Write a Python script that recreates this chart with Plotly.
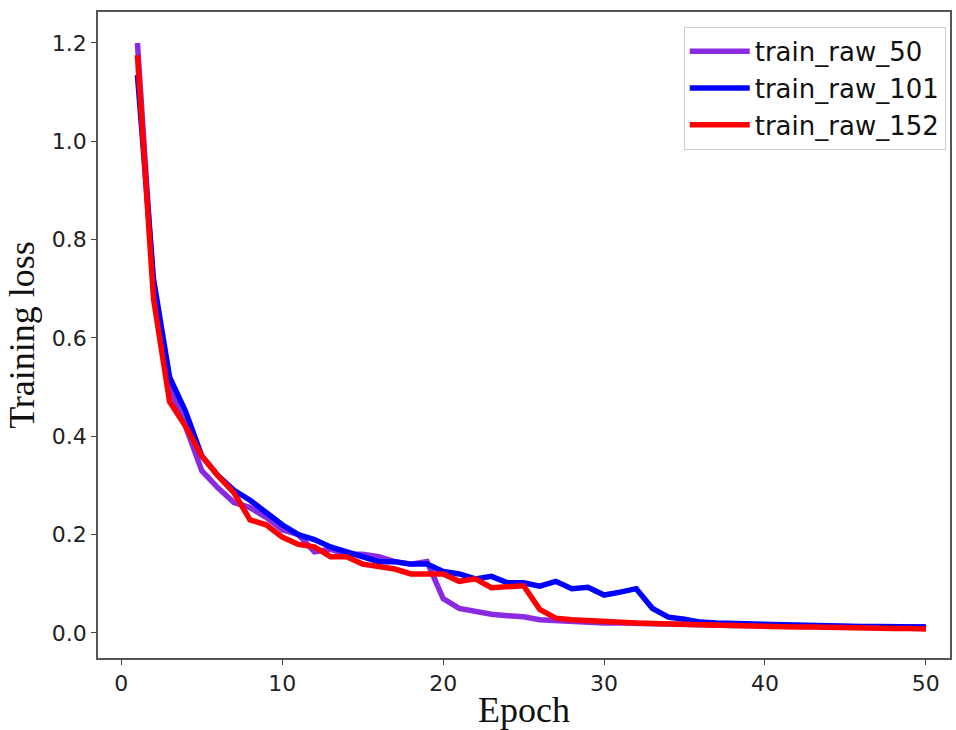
import plotly.graph_objects as go

epochs = list(range(1, 51))

train_raw_50 = [1.20, 0.70, 0.50, 0.42, 0.33, 0.295, 0.265, 0.255, 0.235, 0.21,
                0.20, 0.165, 0.17, 0.16, 0.16, 0.155, 0.145, 0.14, 0.145, 0.07,
                0.05, 0.043, 0.038, 0.035, 0.033, 0.027, 0.025, 0.023, 0.022, 0.020,
                0.020, 0.019, 0.018, 0.017, 0.017, 0.016, 0.016, 0.015, 0.015, 0.014,
                0.014, 0.013, 0.013, 0.013, 0.012, 0.012, 0.012, 0.012, 0.012, 0.012]

train_raw_101 = [1.135, 0.72, 0.52, 0.45, 0.36, 0.32, 0.29, 0.27, 0.245, 0.22,
                 0.20, 0.19, 0.175, 0.165, 0.155, 0.145, 0.145, 0.14, 0.14, 0.125,
                 0.12, 0.11, 0.115, 0.102, 0.102, 0.095, 0.105, 0.09, 0.093, 0.077,
                 0.083, 0.09, 0.05, 0.032, 0.028, 0.022, 0.020, 0.019, 0.018, 0.017,
                 0.016, 0.015, 0.015, 0.014, 0.014, 0.013, 0.013, 0.012, 0.012, 0.012]

train_raw_152 = [1.175, 0.68, 0.47, 0.42, 0.36, 0.32, 0.285, 0.23, 0.22, 0.195,
                 0.18, 0.175, 0.155, 0.155, 0.14, 0.135, 0.13, 0.12, 0.12, 0.12,
                 0.105, 0.11, 0.092, 0.095, 0.096, 0.048, 0.030, 0.027, 0.025, 0.022,
                 0.020, 0.020, 0.019, 0.018, 0.017, 0.016, 0.015, 0.015, 0.014, 0.014,
                 0.013, 0.012, 0.012, 0.011, 0.011, 0.010, 0.010, 0.009, 0.009, 0.008]

series = [("train_raw_50", train_raw_50, "#8A2BE2"),
          ("train_raw_101", train_raw_101, "#0000FF"),
          ("train_raw_152", train_raw_152, "#FF0000")]

x_ticks = [0, 10, 20, 30, 40, 50]
y_ticks = [0.0, 0.2, 0.4, 0.6, 0.8, 1.0, 1.2]

fig = go.Figure()
for name, vals, color in series:
    fig.add_trace(go.Scatter(x=epochs, y=vals, mode="lines", name=name,
                             line=dict(color=color, width=5.5)))

axis_common = dict(showline=True, linecolor="#555555", linewidth=1.6, mirror=True,
                   ticks="outside", ticklen=5, tickwidth=1.2, tickcolor="#444444",
                   showgrid=False, zeroline=False,
                   tickfont=dict(family="DejaVu Sans", size=22, color="#222222"))

fig.update_layout(
    width=956, height=730,
    margin=dict(l=98, r=4, t=12, b=72),
    paper_bgcolor="white", plot_bgcolor="white",
    xaxis=dict(range=[-1.45, 51.5], tickvals=x_ticks,
               title=dict(text="Epoch", font=dict(family="Liberation Serif", size=36, color="#111111"),
                          standoff=4),
               **axis_common),
    yaxis=dict(range=[-0.051, 1.263], tickvals=y_ticks, tickformat=".1f",
               title=dict(text="Training loss", font=dict(family="Liberation Serif", size=36, color="#111111"),
                          standoff=6),
               **axis_common),
    legend=dict(x=0.995, y=0.977, xanchor="right", yanchor="top",
                bgcolor="rgba(255,255,255,0.9)", bordercolor="#cccccc", borderwidth=1,
                font=dict(family="DejaVu Sans", size=26, color="#111111"),
                tracegroupgap=0, itemwidth=60),
    showlegend=True,
)

fig.write_html("out.html")
